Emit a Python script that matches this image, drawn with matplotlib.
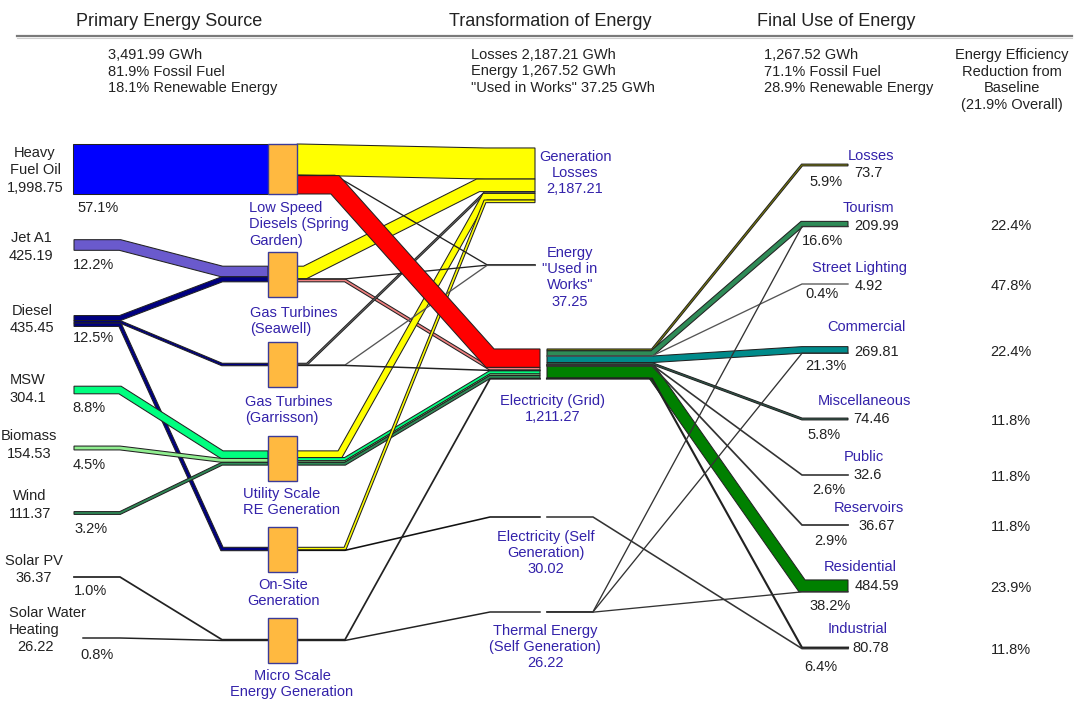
import numpy as np
import matplotlib
matplotlib.use("Agg")
import matplotlib.pyplot as plt
from matplotlib.patches import Polygon, Rectangle

plt.rcParams['font.family'] = ['Liberation Sans', 'DejaVu Sans']

# ---------------------------------------------------------------- data
SCALE = 0.025  # px per GWh

primary_names = ["HFO", "JetA1", "Diesel", "MSW", "Biomass", "Wind", "SolarPV", "SWH"]
primary_labels = ["Heavy\nFuel Oil\n1,998.75", "Jet A1\n425.19", "Diesel\n435.45", "MSW\n304.1",
                  "Biomass\n154.53", "Wind\n111.37", "Solar PV\n36.37", "Solar Water\nHeating\n26.22"]
primary_values = [1998.75, 425.19, 435.45, 304.1, 154.53, 111.37, 36.37, 26.22]
primary_pct = ["57.1%", "12.2%", "12.5%", "8.8%", "4.5%", "3.2%", "1.0%", "0.8%"]

conversion_names = ["LSD", "GTS", "GTG", "URE", "OSG", "MSG"]
conversion_labels = ["Low Speed\nDiesels (Spring\nGarden)", "Gas Turbines\n(Seawell)",
                     "Gas Turbines\n(Garrisson)", "Utility Scale\nRE Generation",
                     "On-Site\nGeneration", "Micro Scale\nEnergy Generation"]

transform_names = ["GenLosses", "Works", "Grid", "SelfElec", "Thermal"]
transform_labels = ["Generation\nLosses\n2,187.21", "Energy\n\"Used in\nWorks\"\n37.25",
                    "Electricity (Grid)\n1,211.27", "Electricity (Self\nGeneration)\n30.02",
                    "Thermal Energy\n(Self Generation)\n26.22"]

final_names = ["Losses", "Tourism", "Street Lighting", "Commercial", "Miscellaneous",
               "Public", "Reservoirs", "Residential", "Industrial"]
final_values = [73.7, 209.99, 4.92, 269.81, 74.46, 32.6, 36.67, 484.59, 80.78]
final_value_text = ["73.7", "209.99", "4.92", "269.81", "74.46", "32.6", "36.67", "484.59", "80.78"]
final_pct = ["5.9%", "16.6%", "0.4%", "21.3%", "5.8%", "2.6%", "2.9%", "38.2%", "6.4%"]
efficiency_pct = ["", "22.4%", "47.8%", "22.4%", "11.8%", "11.8%", "11.8%", "23.9%", "11.8%"]

stage1_flows = [("HFO", "LSD", 1998.75), ("JetA1", "GTS", 425.19), ("Diesel", "GTS", 200.0),
                ("Diesel", "GTG", 100.0), ("Diesel", "OSG", 135.45), ("MSW", "URE", 304.1),
                ("Biomass", "URE", 154.53), ("Wind", "URE", 111.37), ("SolarPV", "MSG", 36.37),
                ("SWH", "MSG", 26.22)]

stage2_flows = [("LSD", "GenLosses", 1243.75), ("LSD", "Works", 20.0), ("LSD", "Grid", 735.0),
                ("GTS", "GenLosses", 503.19), ("GTS", "Works", 12.0), ("GTS", "Grid", 110.0),
                ("GTG", "GenLosses", 68.56), ("GTG", "Works", 5.25), ("GTG", "Grid", 26.19),
                ("URE", "GenLosses", 266.29), ("URE", "Grid", 127.53), ("URE", "Grid", 64.81),
                ("URE", "Grid", 111.37), ("OSG", "GenLosses", 105.43), ("OSG", "SelfElec", 30.02),
                ("MSG", "Grid", 36.37), ("MSG", "Thermal", 26.22)]

stage3_flows = [("Grid", "Losses", 73.7), ("Grid", "Tourism", 204.99), ("Grid", "Street Lighting", 4.92),
                ("Grid", "Commercial", 261.81), ("Grid", "Miscellaneous", 74.46), ("Grid", "Public", 32.6),
                ("Grid", "Reservoirs", 36.67), ("Grid", "Residential", 471.36), ("Grid", "Industrial", 50.76),
                ("Thermal", "Tourism", 5.0), ("Thermal", "Commercial", 8.0), ("Thermal", "Residential", 13.22),
                ("SelfElec", "Industrial", 30.02)]

# ---------------------------------------------------------------- layout (pixels)
center_y = {
    "HFO": 169, "JetA1": 245, "Diesel": 321, "MSW": 390, "Biomass": 448, "Wind": 513,
    "SolarPV": 577, "SWH": 638,
    "LSD": 169, "GTS": 274, "GTG": 364.5, "URE": 458, "OSG": 549, "MSG": 640,
    "GenLosses": 175.3, "Works": 265, "Grid": 364.1, "SelfElec": 517, "Thermal": 612,
    "Losses": 165, "Tourism": 224, "Street Lighting": 284, "Commercial": 350,
    "Miscellaneous": 419, "Public": 475, "Reservoirs": 525, "Residential": 586, "Industrial": 648,
}
source_x0 = {"SWH": 83}
box_h = {"LSD": 50}

stage2_bend1 = {("LSD", "GenLosses"): 300, ("LSD", "Grid"): 335, ("LSD", "Works"): 335,
                ("GTS", "GenLosses"): 305, ("GTG", "GenLosses"): 307, ("URE", "GenLosses"): 340}
stage2_bend2 = {("GTS", "GenLosses"): 478}
dst_bend2 = {"GenLosses": 485, "Works": 487, "Grid": 490, "SelfElec": 490, "Thermal": 490}
dst_end = {"GenLosses": 535, "Works": 535, "Grid": 540, "SelfElec": 540, "Thermal": 540}
stage3_bend1 = {"Grid": 652, "Thermal": 593, "SelfElec": 593}

YELLOW = "#ffff00"
stage1_colors = {"HFO": "#0000ff", "JetA1": "#6a5acd", "Diesel": "#000080", "MSW": "#00ff7f",
                 "Biomass": "#90ee90", "Wind": "#2e8b57", "SolarPV": "#222222", "SWH": "#222222"}
stage2_colors = [YELLOW, "#222222", "#ff0000",
                 YELLOW, "#222222", "#f08080",
                 "#777777", "#555555", "#222222",
                 YELLOW, "#00ff7f", "#90ee90", "#2e8b57",
                 YELLOW, "#111111",
                 "#222222", "#222222"]
stage3_colors = {"Losses": "#8b8b00", "Tourism": "#2e8b57", "Street Lighting": "#555555",
                 "Commercial": "#008b8b", "Miscellaneous": "#2f5f4f", "Public": "#333333",
                 "Reservoirs": "#333333", "Residential": "#008000", "Industrial": "#222222"}

TXT = "#222222"
NODE_TXT = "#3322aa"
FS = 10.5

# ---------------------------------------------------------------- helpers
def stack(flows):
    """Return source / destination centre-line y of each flow, stacked at nodes."""
    ys = [None] * len(flows)
    yd = [None] * len(flows)
    nodes_s = {}
    nodes_d = {}
    for i, (s, d, v) in enumerate(flows):
        nodes_s.setdefault(s, []).append(i)
        nodes_d.setdefault(d, []).append(i)
    for s, idx in nodes_s.items():
        idx = sorted(idx, key=lambda i: (center_y[flows[i][1]], i))
        tot = sum(flows[i][2] for i in idx) * SCALE
        y = center_y[s] - tot / 2
        for i in idx:
            w = flows[i][2] * SCALE
            ys[i] = y + w / 2
            y += w
    for d, idx in nodes_d.items():
        idx = sorted(idx, key=lambda i: (center_y[flows[i][0]], i))
        tot = sum(flows[i][2] for i in idx) * SCALE
        y = center_y[d] - tot / 2
        for i in idx:
            w = flows[i][2] * SCALE
            yd[i] = y + w / 2
            y += w
    return ys, yd


def band(ax, xs, ys, w, color, z=2, edge="#222222"):
    if w < 1.3:
        ax.plot(xs, ys, color=color if color != YELLOW else "#b8b800",
                lw=max(0.95, w * 0.72 + 0.6), solid_joinstyle="miter", zorder=z + 1)
        return
    P = np.column_stack([xs, ys]).astype(float)
    d = np.diff(P, axis=0)
    L = np.hypot(d[:, 0], d[:, 1])
    t = d / L[:, None]
    nrm = np.column_stack([-t[:, 1], t[:, 0]])
    offs = np.zeros_like(P)
    offs[0] = nrm[0]
    offs[-1] = nrm[-1]
    for i in range(1, len(P) - 1):
        m = nrm[i - 1] + nrm[i]
        m /= np.linalg.norm(m)
        offs[i] = m / np.dot(m, nrm[i - 1])
    left = P + offs * w / 2
    right = P - offs * w / 2
    ax.add_patch(Polygon(np.vstack([left, right[::-1]]), closed=True, fc=color, ec=edge,
                         lw=0.75, joinstyle="miter", zorder=z))


def mtext(ax, x, y0, text, step=16.5, **kw):
    for k, line in enumerate(text.split("\n")):
        ax.text(x, y0 + k * step, line, va="center", fontsize=FS, **kw)


# ---------------------------------------------------------------- figure
fig = plt.figure(figsize=(10.78, 7.02), dpi=100)
ax = fig.add_axes([0, 0, 1, 1])
ax.set_xlim(0, 1078)
ax.set_ylim(702, 0)
ax.axis("off")

# stage 1
ys, yd = stack(stage1_flows)
for i, (s, d, v) in enumerate(stage1_flows):
    x0 = source_x0.get(s, 73 if s == "HFO" else 74)
    band(ax, [x0, 120, 222, 268], [ys[i], ys[i], yd[i], yd[i]], v * SCALE, stage1_colors[s], z=2)

# stage 2 (draw order: grid flows, then losses, then red)
ys2, yd2 = stack(stage2_flows)
order = sorted(range(len(stage2_flows)),
               key=lambda i: (0 if stage2_flows[i][1] != "GenLosses" and stage2_colors[i] != "#ff0000" else
                              (1 if stage2_flows[i][1] == "GenLosses" else 2)))
for i in order:
    s, d, v = stage2_flows[i]
    b1 = stage2_bend1.get((s, d), 345)
    b2 = stage2_bend2.get((s, d), dst_bend2[d])
    z = 3 if stage2_colors[i] != "#ff0000" else 4
    band(ax, [297, b1, b2, dst_end[d]], [ys2[i], ys2[i], yd2[i], yd2[i]], v * SCALE,
         stage2_colors[i], z=z)

# stage 3
ys3, yd3 = stack(stage3_flows)
for i, (s, d, v) in enumerate(stage3_flows):
    c = stage3_colors[d] if s == "Grid" else "#333333"
    band(ax, [547, stage3_bend1[s], 802, 848], [ys3[i], ys3[i], yd3[i], yd3[i]], v * SCALE, c, z=3)

# conversion boxes
for n in conversion_names:
    h = box_h.get(n, 45)
    ax.add_patch(Rectangle((268, center_y[n] - h / 2), 29, h, fc="#ffb940", ec="#3b3b98",
                           lw=1.0, zorder=6))

# ---------------------------------------------------------------- text
ax.plot([17, 1072], [36, 36], color="#7a7a7a", lw=1.6, zorder=1)
ax.plot([17, 1072], [37.5, 37.5], color="#cfcfcf", lw=0.8, zorder=1)
for x, t in [(169, "Primary Energy Source"), (550, "Transformation of Energy"), (836, "Final Use of Energy")]:
    ax.text(x, 21, t, ha="center", va="center", fontsize=13, color=TXT)

mtext(ax, 108, 55, "3,491.99 GWh\n81.9% Fossil Fuel\n18.1% Renewable Energy", ha="left", color=TXT)
mtext(ax, 471, 55, "Losses 2,187.21 GWh\nEnergy 1,267.52 GWh\n\"Used in Works\" 37.25 GWh", ha="left", color=TXT)
mtext(ax, 764, 55, "1,267.52 GWh\n71.1% Fossil Fuel\n28.9% Renewable Energy", ha="left", color=TXT)
mtext(ax, 1012, 55, "Energy Efficiency\nReduction from\nBaseline\n(21.9% Overall)", ha="center", color=TXT)

# primary labels
p_lab_xy = [(35, 153), (31, 238), (32, 311), (28, 380), (29, 436), (30, 496), (34, 561), (9, 613)]
p_pct_xy = [(77, 208), (73, 265), (73, 338), (72, 408), (73, 465), (74, 529), (74, 591), (80, 655)]
for k, lab in enumerate(primary_labels):
    x, y = p_lab_xy[k]
    if primary_names[k] == "SWH":
        lines = lab.split("\n")
        mtext(ax, x, y, "\n".join(lines[:2]), ha="left", color=TXT, step=17)
        ax.text(36, y + 34, lines[2], ha="center", va="center", fontsize=FS, color=TXT)
    else:
        mtext(ax, x, y, lab, ha="center", color=TXT, step=17.5)
    ax.text(p_pct_xy[k][0], p_pct_xy[k][1], primary_pct[k], ha="left", va="center", fontsize=FS, color=TXT)

# conversion labels
c_lab = [(249, 208, "left"), (250, 313, "left"), (245, 402, "left"), (243, 494, "left"),
         (283, 585, "center"), (292, 676, "center")]
for k, lab in enumerate(conversion_labels):
    x, y, ha = c_lab[k]
    mtext(ax, x, y, lab, ha=ha, color=NODE_TXT, step=16.3)

# transformation labels
t_lab = [(575, 157), (570, 253), (553, 401), (546, 537), (545, 631)]
for k, lab in enumerate(transform_labels):
    x, y = t_lab[k]
    mtext(ax, x, y, lab, ha="center", color=NODE_TXT, step=16.2)

# final labels
f_name_xy = [(871, 156), (868, 208), (860, 268), (866, 327), (864, 401), (864, 457), (869, 508),
             (860, 567), (858, 629)]
f_val_xy = [(854, 173), (854, 226), (855, 286), (854, 352), (853, 419), (853, 475), (858, 526),
            (855, 586), (852, 648)]
f_pct_xy = [(843, 182), (843, 241), (839, 294), (846, 366), (841, 435), (845, 490), (847, 541),
            (851, 606), (837, 667)]
for k, n in enumerate(final_names):
    ax.text(*f_name_xy[k], n, ha="center", va="center", fontsize=FS, color=NODE_TXT)
    ax.text(*f_val_xy[k], final_value_text[k], ha="left", va="center", fontsize=FS, color=TXT)
    ax.text(*f_pct_xy[k], final_pct[k], ha="right", va="center", fontsize=FS, color=TXT)
    if efficiency_pct[k]:
        ax.text(1011, center_y[n] + 2, efficiency_pct[k], ha="center", va="center", fontsize=FS, color=TXT)

fig.savefig("out.png", dpi=100, facecolor="white")
